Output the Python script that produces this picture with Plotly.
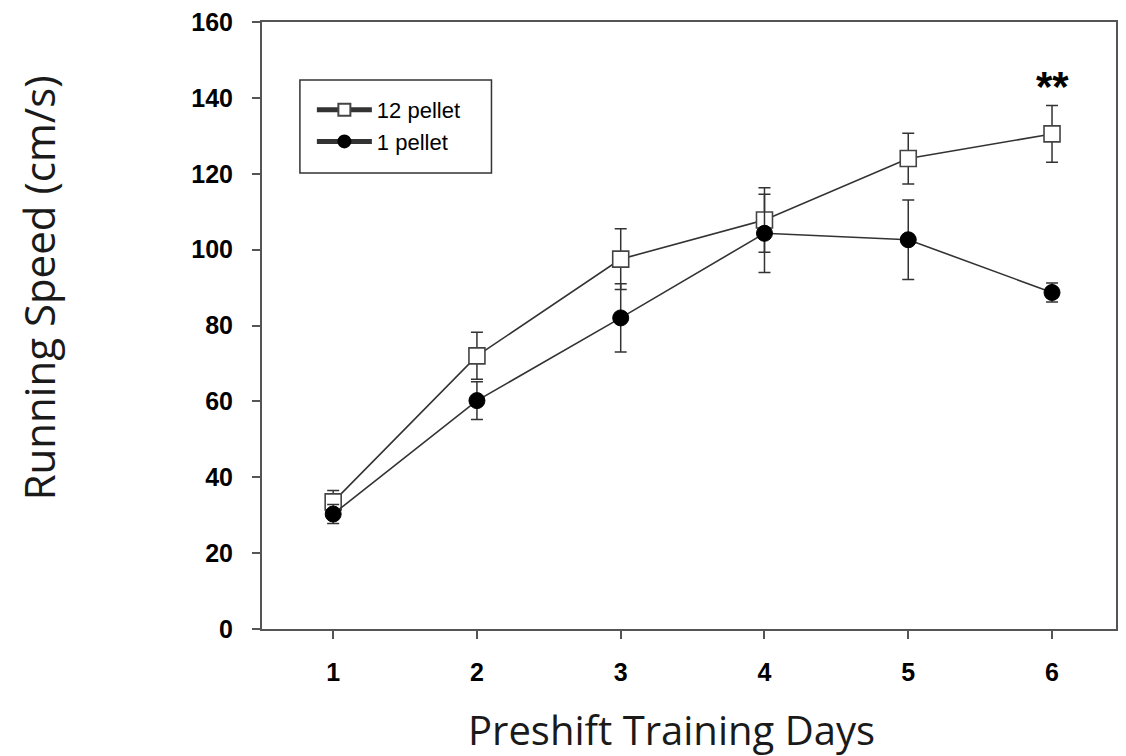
import plotly.graph_objects as go

days = [1, 2, 3, 4, 5, 6]
pellet12 = [33.5, 72.0, 97.5, 107.8, 124.0, 130.5]
pellet12_err = [3.0, 6.2, 8.0, 8.5, 6.7, 7.5]
pellet1 = [30.3, 60.2, 82.0, 104.3, 102.6, 88.7]
pellet1_err = [2.5, 5.0, 9.0, 10.3, 10.5, 2.5]
yticks = [0, 20, 40, 60, 80, 100, 120, 140, 160]

line_col = "#333333"
axis_col = "#555555"

fig = go.Figure()
fig.add_trace(go.Scatter(
    x=days, y=pellet12, name="12 pellet", mode="lines+markers",
    line=dict(color=line_col, width=1.6),
    marker=dict(symbol="square", size=16, color="white", line=dict(color="#444444", width=1.6)),
    error_y=dict(type="data", array=pellet12_err, visible=True, color=line_col, thickness=1.5, width=6),
))
fig.add_trace(go.Scatter(
    x=days, y=pellet1, name="1 pellet", mode="lines+markers",
    line=dict(color=line_col, width=1.6),
    marker=dict(symbol="circle", size=16, color="black", line=dict(color="black", width=1)),
    error_y=dict(type="data", array=pellet1_err, visible=True, color=line_col, thickness=1.5, width=6),
))

fig.add_annotation(x=6, y=143, text="<b>**</b>", showarrow=False,
                   font=dict(family="Arial", size=42, color="black"))

# axis titles placed as annotations to match the original layout
fig.add_annotation(xref="paper", yref="paper", x=0.480, y=-0.166,
                   text="Preshift Training Days", showarrow=False,
                   xanchor="center", yanchor="middle",
                   font=dict(family="Open Sans", size=40, color="#1a1a1a"))
fig.add_annotation(xref="paper", yref="paper", x=-0.2617, y=0.562,
                   text="Running Speed (cm/s)", showarrow=False, textangle=-90,
                   xanchor="center", yanchor="middle",
                   font=dict(family="Open Sans", size=42, color="#1a1a1a"))

# legend frame
fig.add_shape(type="rect", xref="paper", yref="paper",
              x0=0.0444, x1=0.2687, y0=0.7512, y1=0.9045,
              line=dict(color="#333333", width=1.5), fillcolor="rgba(0,0,0,0)")

fig.update_layout(
    width=1126, height=756,
    margin=dict(l=262, r=8, t=22, b=127),
    plot_bgcolor="white", paper_bgcolor="white",
    showlegend=True,
    legend=dict(x=0.0584, y=0.8896, xanchor="left", yanchor="top",
                borderwidth=0, bgcolor="rgba(0,0,0,0)",
                font=dict(family="Arial", size=22, color="black"),
                tracegroupgap=0, itemsizing="constant", itemwidth=55),
    xaxis=dict(range=[0.505, 6.445], tickvals=days, ticktext=[str(d) for d in days],
               showgrid=False, zeroline=False, showline=True, linecolor=axis_col, linewidth=2,
               mirror=True, ticks="outside", ticklen=8, tickwidth=1.5, tickcolor=axis_col,
               ticklabelstandoff=12,
               tickfont=dict(family="Arial", size=25, color="black", weight="bold")),
    yaxis=dict(range=[0, 160], tickvals=yticks,
               showgrid=False, zeroline=False, showline=True, linecolor=axis_col, linewidth=2,
               mirror=True, ticks="outside", ticklen=8, tickwidth=1.5, tickcolor=axis_col,
               ticklabelstandoff=14,
               tickfont=dict(family="Arial", size=25, color="black", weight="bold")),
)

fig.write_html("out.html")
